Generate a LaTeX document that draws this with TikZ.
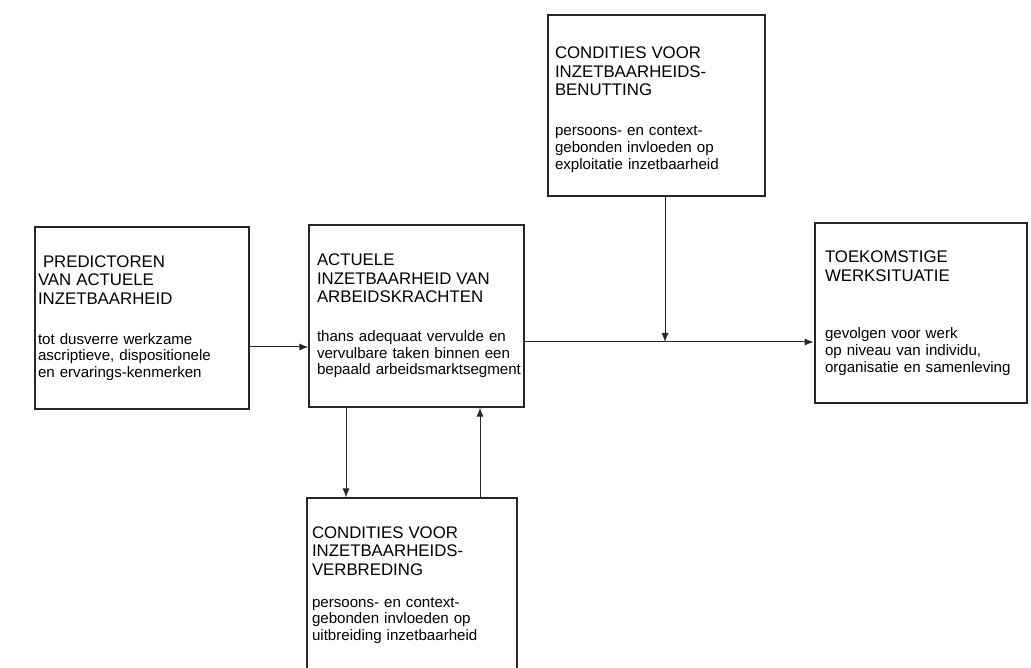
\documentclass[tikz,border=0pt]{standalone}
\usepackage{fontspec}
\setmainfont{Liberation Sans}
\usetikzlibrary{arrows.meta}
\newcommand{\kop}[1]{{\fontsize{16.8}{18.6}\selectfont #1\par}}

\begin{document}
\begin{tikzpicture}[x=1pt,y=-1pt,
  box/.style={draw=black!85,line width=1.2pt,align=left,inner sep=0pt,
    minimum height=182pt,font=\fontsize{15.1}{16.7}\selectfont},
  pijl/.style={draw=black!85,line width=1pt,-{Latex[length=9pt,width=7pt]}}]
\clip (0,0) rectangle (1031,668);

\node[box,text width=214pt] (P) at (142,318)
  {\leftskip=3pt\kop{\hspace*{5pt}PREDICTOREN\\VAN ACTUELE\\INZETBAARHEID}\vspace{23pt}
   tot dusverre werkzame\\ascriptieve, dispositionele\\en ervarings-kenmerken\par};
\node[box,text width=215pt] (A) at (416.5,316)
  {\leftskip=8pt\kop{ACTUELE\\INZETBAARHEID VAN\\ARBEIDSKRACHTEN}\vspace{22pt}
   thans adequaat vervulde en\\vervulbare taken binnen een\\bepaald arbeidsmarktsegment\par\vspace{6pt}};
\node[box,text width=217pt,minimum height=181pt] (B) at (656.5,105.5)
  {\leftskip=7pt\kop{\rule{0pt}{20pt}CONDITIES VOOR\\INZETBAARHEIDS-\\BENUTTING}\vspace{23pt}
   persoons- en context-\\gebonden invloeden op\\exploitatie inzetbaarheid\par};
\node[box,text width=212pt,minimum height=180pt,line width=2.6pt] (T) at (921,313)
  {\leftskip=10pt\kop{TOEKOMSTIGE\\WERKSITUATIE}\vspace{41pt}
   gevolgen voor werk\\op niveau van individu,\\organisatie en samenleving\par\vspace{8pt}};
\node[box,text width=210pt,minimum height=174pt] (V) at (412,585)
  {\leftskip=5pt\kop{CONDITIES VOOR\\INZETBAARHEIDS-\\VERBREDING}\vspace{15pt}
   persoons- en context-\\gebonden invloeden op\\uitbreiding inzetbaarheid\par\vspace{4pt}};

\coordinate (K) at (665,342);
\draw[pijl] ([yshift=-29pt]P.east) -- ([yshift=-29pt]P.east -| A.west);
\draw[pijl] (A.east |- K) -- (T.west |- K);
\draw[pijl] (B.south -| K) -- (K);
\draw[pijl] (A.south -| 346,0) -- (V.north -| 346,0);
\draw[pijl] (V.north -| 480,0) -- (A.south -| 480,0);
\end{tikzpicture}
\end{document}
